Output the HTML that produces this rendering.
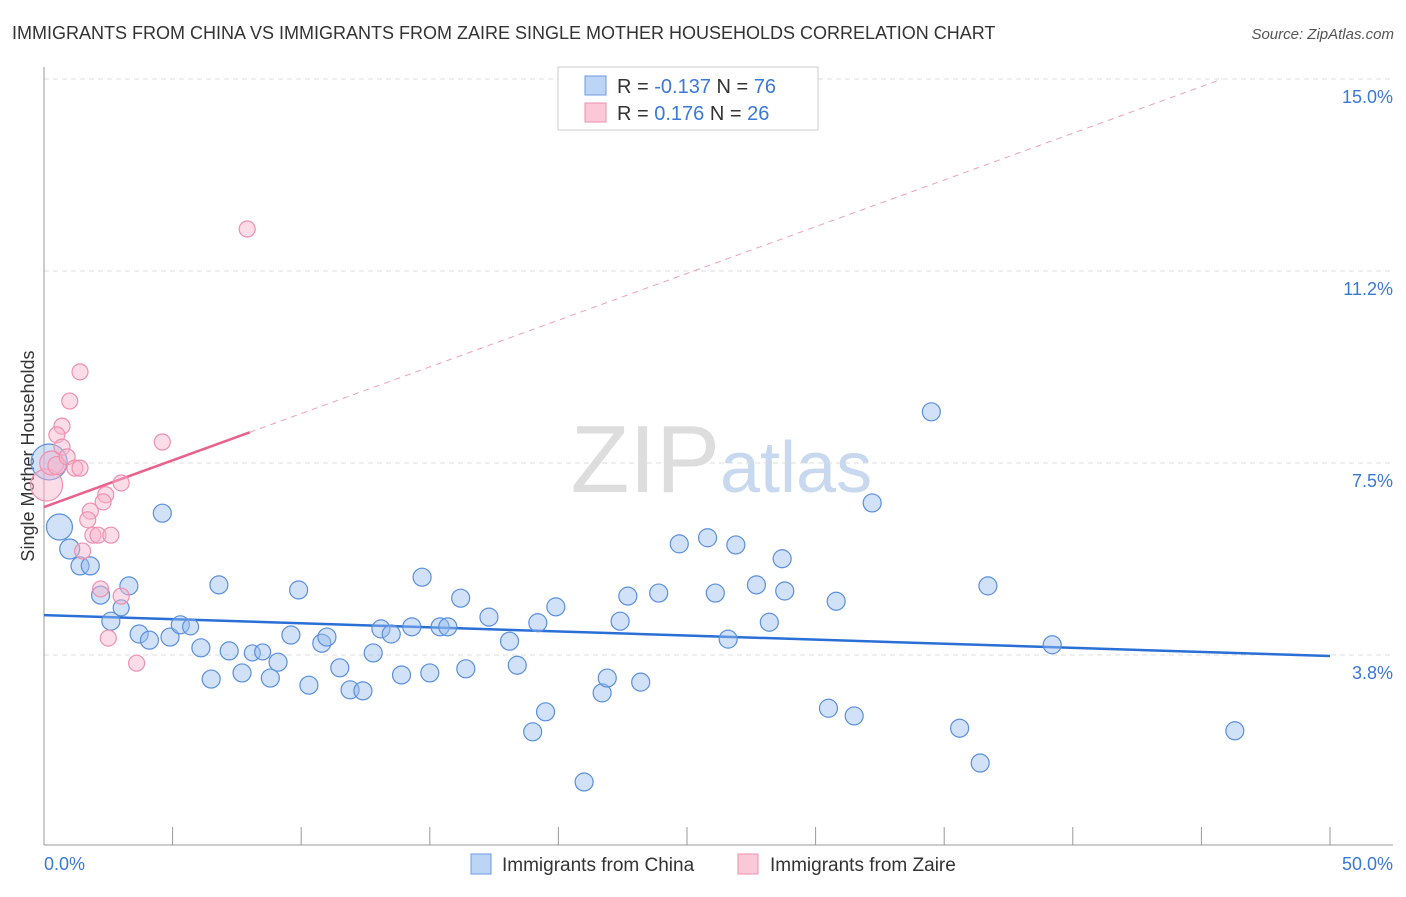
<!DOCTYPE html>
<html><head><meta charset="utf-8"><style>
body{margin:0;background:#fff;font-family:"Liberation Sans",sans-serif;}
svg text{font-family:"Liberation Sans",sans-serif;}
</style></head><body>
<svg id="chart" width="1406" height="892">
<text x="12" y="39" font-size="18" fill="#333">IMMIGRANTS FROM CHINA VS IMMIGRANTS FROM ZAIRE SINGLE MOTHER HOUSEHOLDS CORRELATION CHART</text>
<text x="1394" y="39" font-size="15" fill="#555" text-anchor="end" font-style="italic">Source: ZipAtlas.com</text>
<text x="720" y="492" font-size="96" fill="#ddd" text-anchor="end" font-family="Liberation Serif">ZIP</text>
<text x="720" y="492" font-size="72" fill="#c8d8ee">atlas</text>
<text transform="translate(34,456) rotate(-90)" font-size="18" fill="#333" text-anchor="middle">Single Mother Households</text>
<g id="grid"></g><g id="axes"></g><g id="trend"></g><g id="pts"></g>
<g>
<rect x="558" y="67" width="260" height="63" fill="#fff" stroke="#ccc"/>
<rect x="585" y="76" width="21" height="19" fill="#bcd4f5" stroke="#6b9be0"/>
<rect x="585" y="103" width="21" height="19" fill="#fbc8d8" stroke="#ee90ae"/>
<text x="617" y="93" font-size="20" fill="#333">R = <tspan fill="#3a78d8">-0.137</tspan>   N = <tspan fill="#3a78d8">76</tspan></text>
<text x="617" y="120" font-size="20" fill="#333">R = <tspan fill="#3a78d8">  0.176</tspan>   N = <tspan fill="#3a78d8">26</tspan></text>
</g>
<g>
<rect x="471" y="854" width="20" height="20" fill="#bcd4f5" stroke="#6b9be0"/>
<text x="502" y="871" font-size="19" fill="#333">Immigrants from China</text>
<rect x="738" y="854" width="20" height="20" fill="#fbc8d8" stroke="#ee90ae"/>
<text x="770" y="871" font-size="19" fill="#333">Immigrants from Zaire</text>
</g>
</svg>
<script>
const yTicks=[3.75,7.5,11.25,15];
const yTickLabels=["3.8%","7.5%","11.2%","15.0%"];
const xTickLabels=["0.0%","50.0%"];
const chinaX=[0.2,0.6,1.0,1.4,1.8,2.2,2.6,3.0,3.3,3.7,4.1,4.6,4.9,5.3,5.7,6.1,6.5,6.8,7.2,7.7,8.1,8.5,8.8,9.1,9.6,9.9,10.3,10.8,11.0,11.5,11.9,12.4,12.8,13.1,13.5,13.9,14.3,14.7,15.0,15.4,15.7,16.2,16.4,17.3,18.1,18.4,19.0,19.2,19.5,19.9,21.0,21.7,21.9,22.4,22.7,23.2,23.9,24.7,25.8,26.1,26.6,26.9,27.7,28.2,28.7,28.8,30.5,30.8,31.5,32.2,34.5,35.6,36.4,36.7,39.2,46.3];
const chinaY=[7.52,6.25,5.82,5.49,5.49,4.92,4.41,4.67,5.10,4.16,4.04,6.52,4.10,4.34,4.30,3.89,3.28,5.12,3.83,3.40,3.79,3.81,3.30,3.61,4.14,5.02,3.16,3.98,4.10,3.50,3.07,3.05,3.79,4.26,4.16,3.36,4.30,5.27,3.40,4.30,4.30,4.86,3.48,4.49,4.02,3.55,2.25,4.38,2.64,4.69,1.27,3.01,3.30,4.41,4.90,3.22,4.96,5.92,6.04,4.96,4.06,5.90,5.12,4.39,5.63,5.00,2.71,4.80,2.56,6.72,8.50,2.32,1.64,5.10,3.95,2.27];
const chinaR=[18,13,10,9,9,9,9,8,9,9,9,9,9,9,8,9,9,9,9,9,8,8,9,9,9,9,9,9,9,9,9,9,9,9,9,9,9,9,9,9,9,9,9,9,9,9,9,9,9,9,9,9,9,9,9,9,9,9,9,9,9,9,9,9,9,9,9,9,9,9,9,9,9,9,9,9];
const zaireX=[0.1,0.3,0.5,1.4,1.0,0.7,0.5,0.7,0.9,1.2,1.4,4.6,3.0,2.4,2.3,1.8,1.7,1.9,2.1,2.6,1.5,2.2,3.0,2.5,3.6,7.9];
const zaireY=[7.07,7.5,7.45,9.28,8.71,8.22,8.05,7.81,7.62,7.40,7.40,7.91,7.11,6.88,6.74,6.56,6.39,6.09,6.09,6.09,5.78,5.04,4.90,4.08,3.59,12.07];
const zaireR=[16,12,9,8,8,8,8,8,8,8,8,8,8,8,8,8,8,8,8,8,8,8,8,8,8,8];
const chinaTrend=[4.53,3.73];
const zaireTrend=[6.64,0.1825];
const X0=44,X1=1330;
const sx=v=>X0+v*(X1-X0)/50;
const sy=v=>847-v*51.2;
const NS="http://www.w3.org/2000/svg";
function mk(p,t,a){const e=document.createElementNS(NS,t);for(const k in a)e.setAttribute(k,a[k]);document.getElementById(p).appendChild(e);return e;}
yTicks.forEach((t,i)=>{
 const l=mk('grid','line',{x1:X0,x2:1393,y1:sy(t),y2:sy(t),stroke:'#ddd','stroke-dasharray':'5,4'});
 
 
 const tx=mk('grid','text',{x:1393,y:sy(t)+24,'font-size':18,fill:'#3a78d8','text-anchor':'end'});
 tx.textContent=yTickLabels[i];
 
 
});
const ax=mk('axes','line',{x1:X0,x2:X0,y1:67,y2:845,stroke:'#999'});


const bx=mk('axes','line',{x1:X0,x2:1393,y1:845,y2:845,stroke:'#999'});


for(let i=0;i<=10;i++){
 const t=mk('axes','line',{x1:sx(i*5),x2:sx(i*5),y1:827,y2:845,stroke:'#999'});
 
 
}
const xl0=mk('axes','text',{x:44,y:870,'font-size':18,fill:'#3a78d8'});xl0.textContent=xTickLabels[0];


const xl1=mk('axes','text',{x:1393,y:870,'font-size':18,fill:'#3a78d8','text-anchor':'end'});xl1.textContent=xTickLabels[1];


const tb=mk('trend','line',{x1:sx(0),y1:sy(chinaTrend[0]),x2:sx(50),y2:sy(chinaTrend[1]),stroke:'#2a6fd6','stroke-width':2.5});


const zEnd=(15-zaireTrend[0])/zaireTrend[1];
const td=mk('trend','line',{x1:sx(8),y1:sy(zaireTrend[0]+8*zaireTrend[1]),x2:sx(zEnd),y2:sy(15),stroke:'#eea0b8','stroke-width':1,'stroke-dasharray':'6,5'});


const tp=mk('trend','line',{x1:sx(0),y1:sy(zaireTrend[0]),x2:sx(8),y2:sy(zaireTrend[0]+8*zaireTrend[1]),stroke:'#e8628c','stroke-width':2.5});


chinaX.forEach((v,i)=>{
 const c=mk('pts','circle',{cx:sx(v),cy:sy(chinaY[i]),r:chinaR[i],fill:'rgba(150,188,240,0.45)',stroke:'#5b8fdc','stroke-width':1.2});
 
 
});
zaireX.forEach((v,i)=>{
 const c=mk('pts','circle',{cx:sx(v),cy:sy(zaireY[i]),r:zaireR[i],fill:'rgba(248,180,202,0.45)',stroke:'#ee90ae','stroke-width':1.2});
 
 
});
</script>
</body></html>
